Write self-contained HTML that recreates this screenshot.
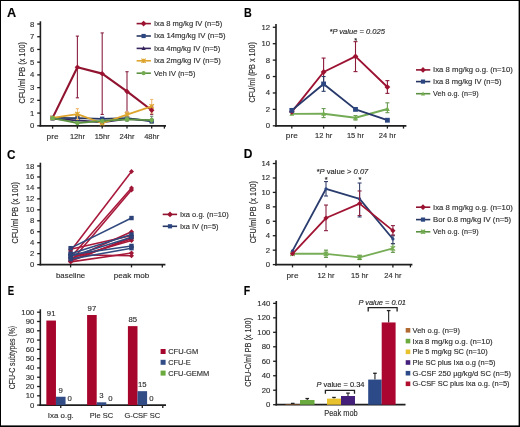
<!DOCTYPE html>
<html><head><meta charset="utf-8"><style>
html,body{margin:0;padding:0;background:#fff;}
svg{display:block;font-family:"Liberation Sans",sans-serif;will-change:transform;}
text{stroke:#333;stroke-width:0.15px;}
</style></head><body>
<svg width="520" height="427" viewBox="0 0 520 427">
<rect x="0" y="0" width="520" height="427" fill="#000"/>
<rect x="1" y="1" width="517.6" height="424.4" fill="#fff"/>
<text font-size="12" font-weight="bold" fill="#000" transform="translate(6.9,17.0) scale(1.06,1)">A</text>
<line x1="40.40" y1="21.30" x2="40.40" y2="126.60" stroke="#1e1e1e" stroke-width="1.6"/>
<line x1="37.20" y1="125.80" x2="40.40" y2="125.80" stroke="#1e1e1e" stroke-width="1.3"/>
<text x="34.40" y="128.30" font-size="8.0" text-anchor="end" fill="#2e2e2e" textLength="4.31" lengthAdjust="spacingAndGlyphs" >0</text>
<line x1="37.20" y1="113.08" x2="40.40" y2="113.08" stroke="#1e1e1e" stroke-width="1.3"/>
<text x="34.40" y="115.58" font-size="8.0" text-anchor="end" fill="#2e2e2e" textLength="4.31" lengthAdjust="spacingAndGlyphs" >1</text>
<line x1="37.20" y1="100.35" x2="40.40" y2="100.35" stroke="#1e1e1e" stroke-width="1.3"/>
<text x="34.40" y="102.85" font-size="8.0" text-anchor="end" fill="#2e2e2e" textLength="4.31" lengthAdjust="spacingAndGlyphs" >2</text>
<line x1="37.20" y1="87.62" x2="40.40" y2="87.62" stroke="#1e1e1e" stroke-width="1.3"/>
<text x="34.40" y="90.12" font-size="8.0" text-anchor="end" fill="#2e2e2e" textLength="4.31" lengthAdjust="spacingAndGlyphs" >3</text>
<line x1="37.20" y1="74.90" x2="40.40" y2="74.90" stroke="#1e1e1e" stroke-width="1.3"/>
<text x="34.40" y="77.40" font-size="8.0" text-anchor="end" fill="#2e2e2e" textLength="4.31" lengthAdjust="spacingAndGlyphs" >4</text>
<line x1="37.20" y1="62.17" x2="40.40" y2="62.17" stroke="#1e1e1e" stroke-width="1.3"/>
<text x="34.40" y="64.67" font-size="8.0" text-anchor="end" fill="#2e2e2e" textLength="4.31" lengthAdjust="spacingAndGlyphs" >5</text>
<line x1="37.20" y1="49.45" x2="40.40" y2="49.45" stroke="#1e1e1e" stroke-width="1.3"/>
<text x="34.40" y="51.95" font-size="8.0" text-anchor="end" fill="#2e2e2e" textLength="4.31" lengthAdjust="spacingAndGlyphs" >6</text>
<line x1="37.20" y1="36.72" x2="40.40" y2="36.72" stroke="#1e1e1e" stroke-width="1.3"/>
<text x="34.40" y="39.22" font-size="8.0" text-anchor="end" fill="#2e2e2e" textLength="4.31" lengthAdjust="spacingAndGlyphs" >7</text>
<line x1="37.20" y1="24.00" x2="40.40" y2="24.00" stroke="#1e1e1e" stroke-width="1.3"/>
<text x="34.40" y="26.50" font-size="8.0" text-anchor="end" fill="#2e2e2e" textLength="4.31" lengthAdjust="spacingAndGlyphs" >8</text>
<line x1="39.60" y1="125.80" x2="166.00" y2="125.80" stroke="#1e1e1e" stroke-width="1.7"/>
<line x1="52.60" y1="125.80" x2="52.60" y2="128.60" stroke="#1e1e1e" stroke-width="1.3"/>
<line x1="77.40" y1="125.80" x2="77.40" y2="128.60" stroke="#1e1e1e" stroke-width="1.3"/>
<line x1="102.20" y1="125.80" x2="102.20" y2="128.60" stroke="#1e1e1e" stroke-width="1.3"/>
<line x1="127.00" y1="125.80" x2="127.00" y2="128.60" stroke="#1e1e1e" stroke-width="1.3"/>
<line x1="151.70" y1="125.80" x2="151.70" y2="128.60" stroke="#1e1e1e" stroke-width="1.3"/>
<line x1="164.40" y1="125.80" x2="164.40" y2="128.60" stroke="#1e1e1e" stroke-width="1.3"/>
<text x="52.60" y="138.60" font-size="7.9" text-anchor="middle" fill="#2e2e2e" textLength="12.0" lengthAdjust="spacingAndGlyphs" >pre</text>
<text x="77.40" y="138.60" font-size="7.9" text-anchor="middle" fill="#2e2e2e" textLength="15.01" lengthAdjust="spacingAndGlyphs" >12hr</text>
<text x="102.20" y="138.60" font-size="7.9" text-anchor="middle" fill="#2e2e2e" textLength="15.01" lengthAdjust="spacingAndGlyphs" >15hr</text>
<text x="127.00" y="138.60" font-size="7.9" text-anchor="middle" fill="#2e2e2e" textLength="15.01" lengthAdjust="spacingAndGlyphs" >24hr</text>
<text x="151.70" y="138.60" font-size="7.9" text-anchor="middle" fill="#2e2e2e" textLength="15.01" lengthAdjust="spacingAndGlyphs" >48hr</text>
<text x="0" y="0" font-size="8.3" text-anchor="middle" fill="#2e2e2e" textLength="61.4" lengthAdjust="spacingAndGlyphs" transform="translate(24.5,72.7) rotate(-90)">CFU/ml PB (x 100)</text>
<line x1="77.40" y1="36.09" x2="77.40" y2="97.80" stroke="#8a2242" stroke-width="1.1"/>
<line x1="75.80" y1="36.09" x2="79.00" y2="36.09" stroke="#8a2242" stroke-width="1.1"/>
<line x1="75.80" y1="97.80" x2="79.00" y2="97.80" stroke="#8a2242" stroke-width="1.1"/>
<line x1="102.20" y1="32.91" x2="102.20" y2="114.47" stroke="#8a2242" stroke-width="1.1"/>
<line x1="100.60" y1="32.91" x2="103.80" y2="32.91" stroke="#8a2242" stroke-width="1.1"/>
<line x1="100.60" y1="114.47" x2="103.80" y2="114.47" stroke="#8a2242" stroke-width="1.1"/>
<line x1="127.00" y1="71.72" x2="127.00" y2="112.06" stroke="#8a2242" stroke-width="1.1"/>
<line x1="125.40" y1="71.72" x2="128.60" y2="71.72" stroke="#8a2242" stroke-width="1.1"/>
<line x1="125.40" y1="112.06" x2="128.60" y2="112.06" stroke="#8a2242" stroke-width="1.1"/>
<line x1="151.70" y1="106.08" x2="151.70" y2="114.35" stroke="#8a2242" stroke-width="1.1"/>
<line x1="150.10" y1="106.08" x2="153.30" y2="106.08" stroke="#8a2242" stroke-width="1.1"/>
<line x1="150.10" y1="114.35" x2="153.30" y2="114.35" stroke="#8a2242" stroke-width="1.1"/>
<polyline points="52.60,117.91 77.40,67.27 102.20,73.63 127.00,91.44 151.70,110.28" fill="none" stroke="#90132f" stroke-width="2.1" stroke-linejoin="round"/>
<polyline points="52.60,118.80 77.40,120.46 102.20,122.24 127.00,118.80 151.70,120.71" fill="none" stroke="#37265e" stroke-width="1.8" stroke-linejoin="round"/>
<polygon points="52.60,116.38 54.80,120.56 50.40,120.56" fill="#37265e"/>
<polygon points="77.40,118.04 79.60,122.22 75.20,122.22" fill="#37265e"/>
<polygon points="102.20,119.82 104.40,124.00 100.00,124.00" fill="#37265e"/>
<polygon points="127.00,116.38 129.20,120.56 124.80,120.56" fill="#37265e"/>
<polygon points="151.70,118.29 153.90,122.47 149.50,122.47" fill="#37265e"/>
<line x1="77.40" y1="115.62" x2="77.40" y2="120.07" stroke="#263660" stroke-width="1.1"/>
<line x1="75.80" y1="115.62" x2="79.00" y2="115.62" stroke="#263660" stroke-width="1.1"/>
<line x1="75.80" y1="120.07" x2="79.00" y2="120.07" stroke="#263660" stroke-width="1.1"/>
<line x1="102.20" y1="117.53" x2="102.20" y2="120.71" stroke="#263660" stroke-width="1.1"/>
<line x1="100.60" y1="117.53" x2="103.80" y2="117.53" stroke="#263660" stroke-width="1.1"/>
<line x1="100.60" y1="120.71" x2="103.80" y2="120.71" stroke="#263660" stroke-width="1.1"/>
<polyline points="52.60,117.91 77.40,118.16 102.20,118.80 127.00,118.16 151.70,121.35" fill="none" stroke="#263660" stroke-width="1.8" stroke-linejoin="round"/>
<rect x="50.40" y="115.71" width="4.40" height="4.40" fill="#2c4682" />
<rect x="75.20" y="115.96" width="4.40" height="4.40" fill="#2c4682" />
<rect x="100.00" y="116.60" width="4.40" height="4.40" fill="#2c4682" />
<rect x="124.80" y="115.96" width="4.40" height="4.40" fill="#2c4682" />
<rect x="149.50" y="119.15" width="4.40" height="4.40" fill="#2c4682" />
<line x1="77.40" y1="108.62" x2="77.40" y2="119.44" stroke="#eebc78" stroke-width="1.1"/>
<line x1="75.80" y1="108.62" x2="79.00" y2="108.62" stroke="#eebc78" stroke-width="1.1"/>
<line x1="75.80" y1="119.44" x2="79.00" y2="119.44" stroke="#eebc78" stroke-width="1.1"/>
<line x1="127.00" y1="111.80" x2="127.00" y2="118.16" stroke="#eebc78" stroke-width="1.1"/>
<line x1="125.40" y1="111.80" x2="128.60" y2="111.80" stroke="#eebc78" stroke-width="1.1"/>
<line x1="125.40" y1="118.16" x2="128.60" y2="118.16" stroke="#eebc78" stroke-width="1.1"/>
<line x1="151.70" y1="99.46" x2="151.70" y2="113.08" stroke="#eebc78" stroke-width="1.1"/>
<line x1="150.10" y1="99.46" x2="153.30" y2="99.46" stroke="#eebc78" stroke-width="1.1"/>
<line x1="150.10" y1="113.08" x2="153.30" y2="113.08" stroke="#eebc78" stroke-width="1.1"/>
<polyline points="52.60,117.91 77.40,114.09 102.20,123.25 127.00,114.60 151.70,106.33" fill="none" stroke="#dea52e" stroke-width="1.8" stroke-linejoin="round"/>
<path d="M50.40,115.71L54.80,120.11M54.80,115.71L50.40,120.11M52.60,115.71L52.60,120.11" stroke="#dea52e" stroke-width="1.2" fill="none"/>
<path d="M75.20,111.89L79.60,116.29M79.60,111.89L75.20,116.29M77.40,111.89L77.40,116.29" stroke="#dea52e" stroke-width="1.2" fill="none"/>
<path d="M100.00,121.05L104.40,125.45M104.40,121.05L100.00,125.45M102.20,121.05L102.20,125.45" stroke="#dea52e" stroke-width="1.2" fill="none"/>
<path d="M124.80,112.40L129.20,116.80M129.20,112.40L124.80,116.80M127.00,112.40L127.00,116.80" stroke="#dea52e" stroke-width="1.2" fill="none"/>
<path d="M149.50,104.13L153.90,108.53M153.90,104.13L149.50,108.53M151.70,104.13L151.70,108.53" stroke="#dea52e" stroke-width="1.2" fill="none"/>
<line x1="127.00" y1="116.89" x2="127.00" y2="121.35" stroke="#6f8a78" stroke-width="1.1"/>
<line x1="125.40" y1="116.89" x2="128.60" y2="116.89" stroke="#6f8a78" stroke-width="1.1"/>
<line x1="125.40" y1="121.35" x2="128.60" y2="121.35" stroke="#6f8a78" stroke-width="1.1"/>
<line x1="151.70" y1="116.26" x2="151.70" y2="123.25" stroke="#6f8a78" stroke-width="1.1"/>
<line x1="150.10" y1="116.26" x2="153.30" y2="116.26" stroke="#6f8a78" stroke-width="1.1"/>
<line x1="150.10" y1="123.25" x2="153.30" y2="123.25" stroke="#6f8a78" stroke-width="1.1"/>
<polyline points="52.60,118.16 77.40,123.00 102.20,120.96 127.00,119.44 151.70,120.07" fill="none" stroke="#5c9142" stroke-width="1.8" stroke-linejoin="round"/>
<circle cx="52.60" cy="118.16" r="2.20" fill="#74ad50"/>
<circle cx="77.40" cy="123.00" r="2.20" fill="#74ad50"/>
<circle cx="102.20" cy="120.96" r="2.20" fill="#74ad50"/>
<circle cx="127.00" cy="119.44" r="2.20" fill="#74ad50"/>
<circle cx="151.70" cy="120.07" r="2.20" fill="#74ad50"/>
<polygon points="77.40,64.56 80.10,67.27 77.40,69.97 74.70,67.27" fill="#9c1230"/>
<polygon points="102.20,70.93 104.90,73.63 102.20,76.33 99.50,73.63" fill="#9c1230"/>
<polygon points="127.00,88.74 129.70,91.44 127.00,94.14 124.30,91.44" fill="#9c1230"/>
<polygon points="151.70,107.58 154.40,110.28 151.70,112.98 149.00,110.28" fill="#9c1230"/>
<line x1="136.60" y1="23.60" x2="150.90" y2="23.60" stroke="#90132f" stroke-width="1.6"/>
<polygon points="143.60,20.70 146.50,23.60 143.60,26.50 140.70,23.60" fill="#9c1230"/>
<text x="154.00" y="25.90" font-size="7.5" text-anchor="start" fill="#2e2e2e" textLength="68.3" lengthAdjust="spacingAndGlyphs" >Ixa 8 mg/kg IV (n=5)</text>
<line x1="136.60" y1="36.00" x2="150.90" y2="36.00" stroke="#263660" stroke-width="1.6"/>
<rect x="141.50" y="33.90" width="4.20" height="4.20" fill="#2c4682" />
<text x="154.00" y="38.30" font-size="7.5" text-anchor="start" fill="#2e2e2e" textLength="71.6" lengthAdjust="spacingAndGlyphs" >Ixa 14mg/kg IV (n=5)</text>
<line x1="136.60" y1="48.40" x2="150.90" y2="48.40" stroke="#37265e" stroke-width="1.6"/>
<polygon points="143.60,46.09 145.70,50.08 141.50,50.08" fill="#37265e"/>
<text x="154.00" y="50.70" font-size="7.5" text-anchor="start" fill="#2e2e2e" textLength="66.3" lengthAdjust="spacingAndGlyphs" >Ixa 4mg/kg IV (n=5)</text>
<line x1="136.60" y1="60.80" x2="150.90" y2="60.80" stroke="#dea52e" stroke-width="1.6"/>
<path d="M141.50,58.70L145.70,62.90M145.70,58.70L141.50,62.90M143.60,58.70L143.60,62.90" stroke="#dea52e" stroke-width="1.2" fill="none"/>
<text x="154.00" y="63.10" font-size="7.5" text-anchor="start" fill="#2e2e2e" textLength="66.8" lengthAdjust="spacingAndGlyphs" >Ixa 2mg/kg IV (n=5)</text>
<line x1="136.60" y1="73.20" x2="150.90" y2="73.20" stroke="#5c9142" stroke-width="1.6"/>
<circle cx="143.60" cy="73.20" r="2.10" fill="#74ad50"/>
<text x="154.00" y="75.50" font-size="7.5" text-anchor="start" fill="#2e2e2e" textLength="41.4" lengthAdjust="spacingAndGlyphs" >Veh IV (n=5)</text>
<text font-size="12" font-weight="bold" fill="#000" transform="translate(244.0,16.8) scale(0.9,1)">B</text>
<line x1="276.00" y1="24.10" x2="276.00" y2="126.60" stroke="#1e1e1e" stroke-width="1.6"/>
<line x1="272.80" y1="125.80" x2="276.00" y2="125.80" stroke="#1e1e1e" stroke-width="1.3"/>
<text x="270.00" y="128.30" font-size="8.0" text-anchor="end" fill="#2e2e2e" textLength="4.31" lengthAdjust="spacingAndGlyphs" >0</text>
<line x1="272.80" y1="109.38" x2="276.00" y2="109.38" stroke="#1e1e1e" stroke-width="1.3"/>
<text x="270.00" y="111.88" font-size="8.0" text-anchor="end" fill="#2e2e2e" textLength="4.31" lengthAdjust="spacingAndGlyphs" >2</text>
<line x1="272.80" y1="92.96" x2="276.00" y2="92.96" stroke="#1e1e1e" stroke-width="1.3"/>
<text x="270.00" y="95.46" font-size="8.0" text-anchor="end" fill="#2e2e2e" textLength="4.31" lengthAdjust="spacingAndGlyphs" >4</text>
<line x1="272.80" y1="76.54" x2="276.00" y2="76.54" stroke="#1e1e1e" stroke-width="1.3"/>
<text x="270.00" y="79.04" font-size="8.0" text-anchor="end" fill="#2e2e2e" textLength="4.31" lengthAdjust="spacingAndGlyphs" >6</text>
<line x1="272.80" y1="60.12" x2="276.00" y2="60.12" stroke="#1e1e1e" stroke-width="1.3"/>
<text x="270.00" y="62.62" font-size="8.0" text-anchor="end" fill="#2e2e2e" textLength="4.31" lengthAdjust="spacingAndGlyphs" >8</text>
<line x1="272.80" y1="43.70" x2="276.00" y2="43.70" stroke="#1e1e1e" stroke-width="1.3"/>
<text x="270.00" y="46.20" font-size="8.0" text-anchor="end" fill="#2e2e2e" textLength="8.62" lengthAdjust="spacingAndGlyphs" >10</text>
<line x1="272.80" y1="27.28" x2="276.00" y2="27.28" stroke="#1e1e1e" stroke-width="1.3"/>
<text x="270.00" y="29.78" font-size="8.0" text-anchor="end" fill="#2e2e2e" textLength="8.62" lengthAdjust="spacingAndGlyphs" >12</text>
<line x1="275.20" y1="125.80" x2="406.40" y2="125.80" stroke="#1e1e1e" stroke-width="1.7"/>
<line x1="291.80" y1="125.80" x2="291.80" y2="128.60" stroke="#1e1e1e" stroke-width="1.3"/>
<line x1="323.60" y1="125.80" x2="323.60" y2="128.60" stroke="#1e1e1e" stroke-width="1.3"/>
<line x1="355.50" y1="125.80" x2="355.50" y2="128.60" stroke="#1e1e1e" stroke-width="1.3"/>
<line x1="387.40" y1="125.80" x2="387.40" y2="128.60" stroke="#1e1e1e" stroke-width="1.3"/>
<line x1="403.50" y1="125.80" x2="403.50" y2="128.60" stroke="#1e1e1e" stroke-width="1.3"/>
<text x="291.80" y="138.30" font-size="7.9" text-anchor="middle" fill="#2e2e2e" textLength="12.0" lengthAdjust="spacingAndGlyphs" >pre</text>
<text x="323.60" y="138.30" font-size="7.9" text-anchor="middle" fill="#2e2e2e" textLength="17.09" lengthAdjust="spacingAndGlyphs" >12 hr</text>
<text x="355.50" y="138.30" font-size="7.9" text-anchor="middle" fill="#2e2e2e" textLength="17.09" lengthAdjust="spacingAndGlyphs" >15 hr</text>
<text x="387.40" y="138.30" font-size="7.9" text-anchor="middle" fill="#2e2e2e" textLength="17.09" lengthAdjust="spacingAndGlyphs" >24 hr</text>
<text x="0" y="0" font-size="8.3" text-anchor="middle" fill="#2e2e2e" textLength="60.5" lengthAdjust="spacingAndGlyphs" transform="translate(255.2,72.3) rotate(-90)">CFU/ml (PB x 100)</text>
<line x1="323.60" y1="108.56" x2="323.60" y2="117.59" stroke="#6a9a55" stroke-width="1.1"/>
<line x1="321.60" y1="108.56" x2="325.60" y2="108.56" stroke="#6a9a55" stroke-width="1.1"/>
<line x1="321.60" y1="117.59" x2="325.60" y2="117.59" stroke="#6a9a55" stroke-width="1.1"/>
<line x1="355.50" y1="115.54" x2="355.50" y2="120.05" stroke="#6a9a55" stroke-width="1.1"/>
<line x1="353.50" y1="115.54" x2="357.50" y2="115.54" stroke="#6a9a55" stroke-width="1.1"/>
<line x1="353.50" y1="120.05" x2="357.50" y2="120.05" stroke="#6a9a55" stroke-width="1.1"/>
<line x1="387.40" y1="102.81" x2="387.40" y2="112.66" stroke="#6a9a55" stroke-width="1.1"/>
<line x1="385.40" y1="102.81" x2="389.40" y2="102.81" stroke="#6a9a55" stroke-width="1.1"/>
<line x1="385.40" y1="112.66" x2="389.40" y2="112.66" stroke="#6a9a55" stroke-width="1.1"/>
<polyline points="291.80,113.90 323.60,113.73 355.50,117.75 387.40,108.97" fill="none" stroke="#74ab55" stroke-width="1.9" stroke-linejoin="round"/>
<polygon points="291.80,111.26 294.20,115.82 289.40,115.82" fill="#74ad50"/>
<polygon points="323.60,111.09 326.00,115.65 321.20,115.65" fill="#74ad50"/>
<polygon points="355.50,115.11 357.90,119.67 353.10,119.67" fill="#74ad50"/>
<polygon points="387.40,106.33 389.80,110.89 385.00,110.89" fill="#74ad50"/>
<line x1="323.60" y1="58.07" x2="323.60" y2="85.57" stroke="#8c1a3a" stroke-width="1.1"/>
<line x1="321.60" y1="58.07" x2="325.60" y2="58.07" stroke="#8c1a3a" stroke-width="1.1"/>
<line x1="321.60" y1="85.57" x2="325.60" y2="85.57" stroke="#8c1a3a" stroke-width="1.1"/>
<line x1="355.50" y1="41.65" x2="355.50" y2="71.61" stroke="#8c1a3a" stroke-width="1.1"/>
<line x1="353.50" y1="41.65" x2="357.50" y2="41.65" stroke="#8c1a3a" stroke-width="1.1"/>
<line x1="353.50" y1="71.61" x2="357.50" y2="71.61" stroke="#8c1a3a" stroke-width="1.1"/>
<line x1="387.40" y1="80.64" x2="387.40" y2="93.37" stroke="#8c1a3a" stroke-width="1.1"/>
<line x1="385.40" y1="80.64" x2="389.40" y2="80.64" stroke="#8c1a3a" stroke-width="1.1"/>
<line x1="385.40" y1="93.37" x2="389.40" y2="93.37" stroke="#8c1a3a" stroke-width="1.1"/>
<polyline points="291.80,111.84 323.60,72.02 355.50,56.43 387.40,87.05" fill="none" stroke="#9c1232" stroke-width="1.9" stroke-linejoin="round"/>
<polygon points="291.80,108.94 294.70,111.84 291.80,114.74 288.90,111.84" fill="#9c1230"/>
<polygon points="323.60,69.12 326.50,72.02 323.60,74.92 320.70,72.02" fill="#9c1230"/>
<polygon points="355.50,53.53 358.40,56.43 355.50,59.33 352.60,56.43" fill="#9c1230"/>
<polygon points="387.40,84.15 390.30,87.05 387.40,89.95 384.50,87.05" fill="#9c1230"/>
<line x1="323.60" y1="76.54" x2="323.60" y2="91.32" stroke="#2c3c68" stroke-width="1.1"/>
<line x1="321.60" y1="76.54" x2="325.60" y2="76.54" stroke="#2c3c68" stroke-width="1.1"/>
<line x1="321.60" y1="91.32" x2="325.60" y2="91.32" stroke="#2c3c68" stroke-width="1.1"/>
<polyline points="291.80,110.37 323.60,83.93 355.50,109.38 387.40,120.22" fill="none" stroke="#27386a" stroke-width="1.9" stroke-linejoin="round"/>
<rect x="289.40" y="107.97" width="4.80" height="4.80" fill="#2c4682" />
<rect x="321.20" y="81.53" width="4.80" height="4.80" fill="#2c4682" />
<rect x="353.10" y="106.98" width="4.80" height="4.80" fill="#2c4682" />
<rect x="385.00" y="117.82" width="4.80" height="4.80" fill="#2c4682" />
<text x="357.20" y="33.80" font-size="7.5" text-anchor="middle" fill="#222" textLength="55.4" lengthAdjust="spacingAndGlyphs" font-style="italic">*P value = 0.025</text>
<text x="355.70" y="43.20" font-size="7.5" text-anchor="middle" fill="#222" >*</text>
<line x1="416.00" y1="69.90" x2="430.30" y2="69.90" stroke="#90132f" stroke-width="1.6"/>
<polygon points="423.00,67.00 425.90,69.90 423.00,72.80 420.10,69.90" fill="#9c1230"/>
<text x="433.10" y="72.20" font-size="7.5" text-anchor="start" fill="#2e2e2e" textLength="79.7" lengthAdjust="spacingAndGlyphs" >Ixa 8 mg/kg o.g. (n=10)</text>
<line x1="416.00" y1="81.60" x2="430.30" y2="81.60" stroke="#263660" stroke-width="1.6"/>
<rect x="420.90" y="79.50" width="4.20" height="4.20" fill="#2c4682" />
<text x="433.10" y="83.90" font-size="7.5" text-anchor="start" fill="#2e2e2e" textLength="68.5" lengthAdjust="spacingAndGlyphs" >Ixa 8 mg/kg IV (n=5)</text>
<line x1="416.00" y1="93.70" x2="430.30" y2="93.70" stroke="#5c9142" stroke-width="1.6"/>
<polygon points="423.00,91.39 425.10,95.38 420.90,95.38" fill="#74ad50"/>
<text x="433.10" y="96.00" font-size="7.5" text-anchor="start" fill="#2e2e2e" textLength="45.5" lengthAdjust="spacingAndGlyphs" >Veh o.g. (n=9)</text>
<text font-size="12" font-weight="bold" fill="#000" transform="translate(7.0,158.6) scale(0.98,1)">C</text>
<line x1="40.40" y1="162.70" x2="40.40" y2="265.40" stroke="#1e1e1e" stroke-width="1.6"/>
<line x1="37.20" y1="264.60" x2="40.40" y2="264.60" stroke="#1e1e1e" stroke-width="1.3"/>
<text x="34.40" y="267.10" font-size="8.0" text-anchor="end" fill="#2e2e2e" textLength="4.31" lengthAdjust="spacingAndGlyphs" >0</text>
<line x1="37.20" y1="253.64" x2="40.40" y2="253.64" stroke="#1e1e1e" stroke-width="1.3"/>
<text x="34.40" y="256.14" font-size="8.0" text-anchor="end" fill="#2e2e2e" textLength="4.31" lengthAdjust="spacingAndGlyphs" >2</text>
<line x1="37.20" y1="242.69" x2="40.40" y2="242.69" stroke="#1e1e1e" stroke-width="1.3"/>
<text x="34.40" y="245.19" font-size="8.0" text-anchor="end" fill="#2e2e2e" textLength="4.31" lengthAdjust="spacingAndGlyphs" >4</text>
<line x1="37.20" y1="231.73" x2="40.40" y2="231.73" stroke="#1e1e1e" stroke-width="1.3"/>
<text x="34.40" y="234.23" font-size="8.0" text-anchor="end" fill="#2e2e2e" textLength="4.31" lengthAdjust="spacingAndGlyphs" >6</text>
<line x1="37.20" y1="220.78" x2="40.40" y2="220.78" stroke="#1e1e1e" stroke-width="1.3"/>
<text x="34.40" y="223.28" font-size="8.0" text-anchor="end" fill="#2e2e2e" textLength="4.31" lengthAdjust="spacingAndGlyphs" >8</text>
<line x1="37.20" y1="209.82" x2="40.40" y2="209.82" stroke="#1e1e1e" stroke-width="1.3"/>
<text x="34.40" y="212.32" font-size="8.0" text-anchor="end" fill="#2e2e2e" textLength="8.62" lengthAdjust="spacingAndGlyphs" >10</text>
<line x1="37.20" y1="198.86" x2="40.40" y2="198.86" stroke="#1e1e1e" stroke-width="1.3"/>
<text x="34.40" y="201.36" font-size="8.0" text-anchor="end" fill="#2e2e2e" textLength="8.62" lengthAdjust="spacingAndGlyphs" >12</text>
<line x1="37.20" y1="187.91" x2="40.40" y2="187.91" stroke="#1e1e1e" stroke-width="1.3"/>
<text x="34.40" y="190.41" font-size="8.0" text-anchor="end" fill="#2e2e2e" textLength="8.62" lengthAdjust="spacingAndGlyphs" >14</text>
<line x1="37.20" y1="176.95" x2="40.40" y2="176.95" stroke="#1e1e1e" stroke-width="1.3"/>
<text x="34.40" y="179.45" font-size="8.0" text-anchor="end" fill="#2e2e2e" textLength="8.62" lengthAdjust="spacingAndGlyphs" >16</text>
<line x1="37.20" y1="166.00" x2="40.40" y2="166.00" stroke="#1e1e1e" stroke-width="1.3"/>
<text x="34.40" y="168.50" font-size="8.0" text-anchor="end" fill="#2e2e2e" textLength="8.62" lengthAdjust="spacingAndGlyphs" >18</text>
<line x1="39.60" y1="264.60" x2="165.40" y2="264.60" stroke="#1e1e1e" stroke-width="1.7"/>
<line x1="70.60" y1="264.60" x2="70.60" y2="267.40" stroke="#1e1e1e" stroke-width="1.3"/>
<line x1="131.50" y1="264.60" x2="131.50" y2="267.40" stroke="#1e1e1e" stroke-width="1.3"/>
<line x1="162.30" y1="264.60" x2="162.30" y2="267.40" stroke="#1e1e1e" stroke-width="1.3"/>
<text x="70.60" y="278.30" font-size="7.9" text-anchor="middle" fill="#2e2e2e" textLength="29.2" lengthAdjust="spacingAndGlyphs" >baseline</text>
<text x="131.50" y="278.30" font-size="7.9" text-anchor="middle" fill="#2e2e2e" textLength="35.6" lengthAdjust="spacingAndGlyphs" >peak mob</text>
<text x="0" y="0" font-size="8.3" text-anchor="middle" fill="#2e2e2e" textLength="61.4" lengthAdjust="spacingAndGlyphs" transform="translate(17.9,212.7) rotate(-90)">CFU/ml PB (x 100)</text>
<polyline points="70.60,250.91 131.50,171.47" fill="none" stroke="#a8183a" stroke-width="1.55" stroke-linejoin="round"/>
<polyline points="70.60,257.48 131.50,187.91" fill="none" stroke="#a8183a" stroke-width="1.55" stroke-linejoin="round"/>
<polyline points="70.60,261.86 131.50,190.10" fill="none" stroke="#a8183a" stroke-width="1.55" stroke-linejoin="round"/>
<polyline points="70.60,259.12 131.50,231.73" fill="none" stroke="#a8183a" stroke-width="1.55" stroke-linejoin="round"/>
<polyline points="70.60,249.26 131.50,235.57" fill="none" stroke="#a8183a" stroke-width="1.55" stroke-linejoin="round"/>
<polyline points="70.60,260.22 131.50,238.85" fill="none" stroke="#a8183a" stroke-width="1.55" stroke-linejoin="round"/>
<polyline points="70.60,258.03 131.50,240.50" fill="none" stroke="#a8183a" stroke-width="1.55" stroke-linejoin="round"/>
<polyline points="70.60,261.86 131.50,253.10" fill="none" stroke="#a8183a" stroke-width="1.55" stroke-linejoin="round"/>
<polyline points="70.60,254.74 131.50,255.84" fill="none" stroke="#a8183a" stroke-width="1.55" stroke-linejoin="round"/>
<polyline points="70.60,261.31 131.50,237.21" fill="none" stroke="#a8183a" stroke-width="1.55" stroke-linejoin="round"/>
<polyline points="70.60,248.17 131.50,218.04" fill="none" stroke="#30497f" stroke-width="1.55" stroke-linejoin="round"/>
<polyline points="70.60,253.64 131.50,234.47" fill="none" stroke="#30497f" stroke-width="1.55" stroke-linejoin="round"/>
<polyline points="70.60,256.38 131.50,237.21" fill="none" stroke="#30497f" stroke-width="1.55" stroke-linejoin="round"/>
<polyline points="70.60,254.74 131.50,245.97" fill="none" stroke="#30497f" stroke-width="1.55" stroke-linejoin="round"/>
<polyline points="70.60,259.12 131.50,248.17" fill="none" stroke="#30497f" stroke-width="1.55" stroke-linejoin="round"/>
<polygon points="70.60,248.41 73.10,250.91 70.60,253.41 68.10,250.91" fill="#a01636"/>
<polygon points="131.50,168.97 134.00,171.47 131.50,173.97 129.00,171.47" fill="#a01636"/>
<polygon points="70.60,254.98 73.10,257.48 70.60,259.98 68.10,257.48" fill="#a01636"/>
<polygon points="131.50,185.41 134.00,187.91 131.50,190.41 129.00,187.91" fill="#a01636"/>
<polygon points="70.60,259.36 73.10,261.86 70.60,264.36 68.10,261.86" fill="#a01636"/>
<polygon points="131.50,187.60 134.00,190.10 131.50,192.60 129.00,190.10" fill="#a01636"/>
<polygon points="70.60,256.62 73.10,259.12 70.60,261.62 68.10,259.12" fill="#a01636"/>
<polygon points="131.50,229.23 134.00,231.73 131.50,234.23 129.00,231.73" fill="#a01636"/>
<polygon points="70.60,246.76 73.10,249.26 70.60,251.76 68.10,249.26" fill="#a01636"/>
<polygon points="131.50,233.07 134.00,235.57 131.50,238.07 129.00,235.57" fill="#a01636"/>
<polygon points="70.60,257.72 73.10,260.22 70.60,262.72 68.10,260.22" fill="#a01636"/>
<polygon points="131.50,236.35 134.00,238.85 131.50,241.35 129.00,238.85" fill="#a01636"/>
<polygon points="70.60,255.53 73.10,258.03 70.60,260.53 68.10,258.03" fill="#a01636"/>
<polygon points="131.50,238.00 134.00,240.50 131.50,243.00 129.00,240.50" fill="#a01636"/>
<polygon points="70.60,259.36 73.10,261.86 70.60,264.36 68.10,261.86" fill="#a01636"/>
<polygon points="131.50,250.60 134.00,253.10 131.50,255.60 129.00,253.10" fill="#a01636"/>
<polygon points="70.60,252.24 73.10,254.74 70.60,257.24 68.10,254.74" fill="#a01636"/>
<polygon points="131.50,253.34 134.00,255.84 131.50,258.34 129.00,255.84" fill="#a01636"/>
<polygon points="70.60,258.81 73.10,261.31 70.60,263.81 68.10,261.31" fill="#a01636"/>
<polygon points="131.50,234.71 134.00,237.21 131.50,239.71 129.00,237.21" fill="#a01636"/>
<rect x="68.40" y="245.97" width="4.40" height="4.40" fill="#2c4278" />
<rect x="129.30" y="215.84" width="4.40" height="4.40" fill="#2c4278" />
<rect x="68.40" y="251.44" width="4.40" height="4.40" fill="#2c4278" />
<rect x="129.30" y="232.27" width="4.40" height="4.40" fill="#2c4278" />
<rect x="68.40" y="254.18" width="4.40" height="4.40" fill="#2c4278" />
<rect x="129.30" y="235.01" width="4.40" height="4.40" fill="#2c4278" />
<rect x="68.40" y="252.54" width="4.40" height="4.40" fill="#2c4278" />
<rect x="129.30" y="243.77" width="4.40" height="4.40" fill="#2c4278" />
<rect x="68.40" y="256.92" width="4.40" height="4.40" fill="#2c4278" />
<rect x="129.30" y="245.97" width="4.40" height="4.40" fill="#2c4278" />
<line x1="162.70" y1="214.40" x2="177.10" y2="214.40" stroke="#90132f" stroke-width="1.6"/>
<polygon points="170.00,211.50 172.90,214.40 170.00,217.30 167.10,214.40" fill="#9c1230"/>
<text x="180.00" y="216.70" font-size="7.5" text-anchor="start" fill="#2e2e2e" textLength="48.7" lengthAdjust="spacingAndGlyphs" >Ixa o.g. (n=10)</text>
<line x1="162.70" y1="226.30" x2="177.10" y2="226.30" stroke="#263660" stroke-width="1.6"/>
<rect x="167.90" y="224.20" width="4.20" height="4.20" fill="#2c4682" />
<text x="180.00" y="228.60" font-size="7.5" text-anchor="start" fill="#2e2e2e" textLength="38.5" lengthAdjust="spacingAndGlyphs" >Ixa IV (n=5)</text>
<text font-size="12" font-weight="bold" fill="#000" transform="translate(243.8,158.2) scale(1.0,1)">D</text>
<line x1="276.00" y1="160.20" x2="276.00" y2="265.40" stroke="#1e1e1e" stroke-width="1.6"/>
<line x1="272.80" y1="264.60" x2="276.00" y2="264.60" stroke="#1e1e1e" stroke-width="1.3"/>
<text x="270.00" y="267.10" font-size="8.0" text-anchor="end" fill="#2e2e2e" textLength="4.31" lengthAdjust="spacingAndGlyphs" >0</text>
<line x1="272.80" y1="250.16" x2="276.00" y2="250.16" stroke="#1e1e1e" stroke-width="1.3"/>
<text x="270.00" y="252.66" font-size="8.0" text-anchor="end" fill="#2e2e2e" textLength="4.31" lengthAdjust="spacingAndGlyphs" >2</text>
<line x1="272.80" y1="235.72" x2="276.00" y2="235.72" stroke="#1e1e1e" stroke-width="1.3"/>
<text x="270.00" y="238.22" font-size="8.0" text-anchor="end" fill="#2e2e2e" textLength="4.31" lengthAdjust="spacingAndGlyphs" >4</text>
<line x1="272.80" y1="221.28" x2="276.00" y2="221.28" stroke="#1e1e1e" stroke-width="1.3"/>
<text x="270.00" y="223.78" font-size="8.0" text-anchor="end" fill="#2e2e2e" textLength="4.31" lengthAdjust="spacingAndGlyphs" >6</text>
<line x1="272.80" y1="206.84" x2="276.00" y2="206.84" stroke="#1e1e1e" stroke-width="1.3"/>
<text x="270.00" y="209.34" font-size="8.0" text-anchor="end" fill="#2e2e2e" textLength="4.31" lengthAdjust="spacingAndGlyphs" >8</text>
<line x1="272.80" y1="192.40" x2="276.00" y2="192.40" stroke="#1e1e1e" stroke-width="1.3"/>
<text x="270.00" y="194.90" font-size="8.0" text-anchor="end" fill="#2e2e2e" textLength="8.62" lengthAdjust="spacingAndGlyphs" >10</text>
<line x1="272.80" y1="177.96" x2="276.00" y2="177.96" stroke="#1e1e1e" stroke-width="1.3"/>
<text x="270.00" y="180.46" font-size="8.0" text-anchor="end" fill="#2e2e2e" textLength="8.62" lengthAdjust="spacingAndGlyphs" >12</text>
<line x1="272.80" y1="163.52" x2="276.00" y2="163.52" stroke="#1e1e1e" stroke-width="1.3"/>
<text x="270.00" y="166.02" font-size="8.0" text-anchor="end" fill="#2e2e2e" textLength="8.62" lengthAdjust="spacingAndGlyphs" >14</text>
<line x1="275.20" y1="264.60" x2="412.40" y2="264.60" stroke="#1e1e1e" stroke-width="1.7"/>
<line x1="292.50" y1="264.60" x2="292.50" y2="267.40" stroke="#1e1e1e" stroke-width="1.3"/>
<line x1="326.00" y1="264.60" x2="326.00" y2="267.40" stroke="#1e1e1e" stroke-width="1.3"/>
<line x1="359.60" y1="264.60" x2="359.60" y2="267.40" stroke="#1e1e1e" stroke-width="1.3"/>
<line x1="392.90" y1="264.60" x2="392.90" y2="267.40" stroke="#1e1e1e" stroke-width="1.3"/>
<line x1="410.40" y1="264.60" x2="410.40" y2="267.40" stroke="#1e1e1e" stroke-width="1.3"/>
<text x="292.50" y="277.80" font-size="7.9" text-anchor="middle" fill="#2e2e2e" textLength="12.0" lengthAdjust="spacingAndGlyphs" >pre</text>
<text x="326.00" y="277.80" font-size="7.9" text-anchor="middle" fill="#2e2e2e" textLength="17.09" lengthAdjust="spacingAndGlyphs" >12 hr</text>
<text x="359.60" y="277.80" font-size="7.9" text-anchor="middle" fill="#2e2e2e" textLength="17.09" lengthAdjust="spacingAndGlyphs" >15 hr</text>
<text x="392.90" y="277.80" font-size="7.9" text-anchor="middle" fill="#2e2e2e" textLength="17.09" lengthAdjust="spacingAndGlyphs" >24 hr</text>
<text x="0" y="0" font-size="8.3" text-anchor="middle" fill="#2e2e2e" textLength="62.3" lengthAdjust="spacingAndGlyphs" transform="translate(255.6,212.2) rotate(-90)">CFU/ml PB (x 100)</text>
<line x1="326.00" y1="250.16" x2="326.00" y2="257.38" stroke="#5c9142" stroke-width="1.1"/>
<line x1="324.00" y1="250.16" x2="328.00" y2="250.16" stroke="#5c9142" stroke-width="1.1"/>
<line x1="324.00" y1="257.38" x2="328.00" y2="257.38" stroke="#5c9142" stroke-width="1.1"/>
<line x1="359.60" y1="255.21" x2="359.60" y2="259.55" stroke="#5c9142" stroke-width="1.1"/>
<line x1="357.60" y1="255.21" x2="361.60" y2="255.21" stroke="#5c9142" stroke-width="1.1"/>
<line x1="357.60" y1="259.55" x2="361.60" y2="259.55" stroke="#5c9142" stroke-width="1.1"/>
<line x1="392.90" y1="243.66" x2="392.90" y2="252.33" stroke="#5c9142" stroke-width="1.1"/>
<line x1="390.90" y1="243.66" x2="394.90" y2="243.66" stroke="#5c9142" stroke-width="1.1"/>
<line x1="390.90" y1="252.33" x2="394.90" y2="252.33" stroke="#5c9142" stroke-width="1.1"/>
<polyline points="292.50,253.77 326.00,253.77 359.60,257.38 392.90,248.36" fill="none" stroke="#78ad58" stroke-width="1.8" stroke-linejoin="round"/>
<path d="M290.30,251.57L294.70,255.97M294.70,251.57L290.30,255.97M292.50,251.57L292.50,255.97" stroke="#74ad50" stroke-width="1.2" fill="none"/>
<path d="M323.80,251.57L328.20,255.97M328.20,251.57L323.80,255.97M326.00,251.57L326.00,255.97" stroke="#74ad50" stroke-width="1.2" fill="none"/>
<path d="M357.40,255.18L361.80,259.58M361.80,255.18L357.40,259.58M359.60,255.18L359.60,259.58" stroke="#74ad50" stroke-width="1.2" fill="none"/>
<path d="M390.70,246.16L395.10,250.56M395.10,246.16L390.70,250.56M392.90,246.16L392.90,250.56" stroke="#74ad50" stroke-width="1.2" fill="none"/>
<line x1="326.00" y1="181.57" x2="326.00" y2="196.01" stroke="#34406a" stroke-width="1.1"/>
<line x1="324.00" y1="181.57" x2="328.00" y2="181.57" stroke="#34406a" stroke-width="1.1"/>
<line x1="324.00" y1="196.01" x2="328.00" y2="196.01" stroke="#34406a" stroke-width="1.1"/>
<line x1="359.60" y1="183.01" x2="359.60" y2="216.95" stroke="#34406a" stroke-width="1.1"/>
<line x1="357.60" y1="183.01" x2="361.60" y2="183.01" stroke="#34406a" stroke-width="1.1"/>
<line x1="357.60" y1="216.95" x2="361.60" y2="216.95" stroke="#34406a" stroke-width="1.1"/>
<line x1="392.90" y1="235.72" x2="392.90" y2="243.66" stroke="#34406a" stroke-width="1.1"/>
<line x1="390.90" y1="235.72" x2="394.90" y2="235.72" stroke="#34406a" stroke-width="1.1"/>
<line x1="390.90" y1="243.66" x2="394.90" y2="243.66" stroke="#34406a" stroke-width="1.1"/>
<polyline points="292.50,250.88 326.00,188.79 359.60,198.90 392.90,238.97" fill="none" stroke="#2a3c6e" stroke-width="1.8" stroke-linejoin="round"/>
<circle cx="292.50" cy="250.88" r="1.60" fill="#2c4682"/>
<circle cx="326.00" cy="188.79" r="1.60" fill="#2c4682"/>
<circle cx="359.60" cy="198.90" r="1.60" fill="#2c4682"/>
<circle cx="392.90" cy="238.97" r="1.60" fill="#2c4682"/>
<line x1="326.00" y1="205.04" x2="326.00" y2="230.67" stroke="#8a2242" stroke-width="1.1"/>
<line x1="324.00" y1="205.04" x2="328.00" y2="205.04" stroke="#8a2242" stroke-width="1.1"/>
<line x1="324.00" y1="230.67" x2="328.00" y2="230.67" stroke="#8a2242" stroke-width="1.1"/>
<line x1="359.60" y1="190.96" x2="359.60" y2="215.50" stroke="#8a2242" stroke-width="1.1"/>
<line x1="357.60" y1="190.96" x2="361.60" y2="190.96" stroke="#8a2242" stroke-width="1.1"/>
<line x1="357.60" y1="215.50" x2="361.60" y2="215.50" stroke="#8a2242" stroke-width="1.1"/>
<line x1="392.90" y1="225.61" x2="392.90" y2="235.00" stroke="#8a2242" stroke-width="1.1"/>
<line x1="390.90" y1="225.61" x2="394.90" y2="225.61" stroke="#8a2242" stroke-width="1.1"/>
<line x1="390.90" y1="235.00" x2="394.90" y2="235.00" stroke="#8a2242" stroke-width="1.1"/>
<polyline points="292.50,253.77 326.00,218.03 359.60,203.59 392.90,230.67" fill="none" stroke="#a01434" stroke-width="1.8" stroke-linejoin="round"/>
<polygon points="292.50,251.17 295.10,253.77 292.50,256.37 289.90,253.77" fill="#9c1230"/>
<polygon points="326.00,215.43 328.60,218.03 326.00,220.63 323.40,218.03" fill="#9c1230"/>
<polygon points="359.60,200.99 362.20,203.59 359.60,206.19 357.00,203.59" fill="#9c1230"/>
<polygon points="392.90,228.07 395.50,230.67 392.90,233.27 390.30,230.67" fill="#9c1230"/>
<text x="342.50" y="174.20" font-size="7.5" text-anchor="middle" fill="#222" textLength="51.7" lengthAdjust="spacingAndGlyphs" >*<tspan font-style="italic">P</tspan> value &gt; <tspan font-style="italic">0.07</tspan></text>
<text x="326.10" y="182.20" font-size="7.5" text-anchor="middle" fill="#222" >*</text>
<text x="360.00" y="182.20" font-size="7.5" text-anchor="middle" fill="#222" >*</text>
<line x1="416.00" y1="207.20" x2="430.30" y2="207.20" stroke="#90132f" stroke-width="1.6"/>
<polygon points="423.00,204.30 425.90,207.20 423.00,210.10 420.10,207.20" fill="#9c1230"/>
<text x="433.10" y="209.50" font-size="7.5" text-anchor="start" fill="#2e2e2e" textLength="79.7" lengthAdjust="spacingAndGlyphs" >Ixa 8 mg/kg o.g. (n=10)</text>
<line x1="416.00" y1="219.60" x2="430.30" y2="219.60" stroke="#263660" stroke-width="1.6"/>
<rect x="420.90" y="217.50" width="4.20" height="4.20" fill="#2c4682" />
<text x="433.10" y="221.90" font-size="7.5" text-anchor="start" fill="#2e2e2e" textLength="78" lengthAdjust="spacingAndGlyphs" >Bor 0.8 mg/kg IV (n=5)</text>
<line x1="416.00" y1="231.80" x2="430.30" y2="231.80" stroke="#5c9142" stroke-width="1.6"/>
<path d="M420.90,229.70L425.10,233.90M425.10,229.70L420.90,233.90M423.00,229.70L423.00,233.90" stroke="#74ad50" stroke-width="1.2" fill="none"/>
<text x="433.10" y="234.10" font-size="7.5" text-anchor="start" fill="#2e2e2e" textLength="45.5" lengthAdjust="spacingAndGlyphs" >Veh o.g. (n=9)</text>
<text font-size="12" font-weight="bold" fill="#000" transform="translate(7.8,295.0) scale(0.8,1)">E</text>
<line x1="40.30" y1="309.30" x2="40.30" y2="405.90" stroke="#1e1e1e" stroke-width="1.6"/>
<line x1="37.10" y1="405.10" x2="40.30" y2="405.10" stroke="#1e1e1e" stroke-width="1.3"/>
<text x="34.30" y="407.60" font-size="8.0" text-anchor="end" fill="#2e2e2e" textLength="4.31" lengthAdjust="spacingAndGlyphs" >0</text>
<line x1="37.10" y1="395.81" x2="40.30" y2="395.81" stroke="#1e1e1e" stroke-width="1.3"/>
<text x="34.30" y="398.31" font-size="8.0" text-anchor="end" fill="#2e2e2e" textLength="8.62" lengthAdjust="spacingAndGlyphs" >10</text>
<line x1="37.10" y1="386.52" x2="40.30" y2="386.52" stroke="#1e1e1e" stroke-width="1.3"/>
<text x="34.30" y="389.02" font-size="8.0" text-anchor="end" fill="#2e2e2e" textLength="8.62" lengthAdjust="spacingAndGlyphs" >20</text>
<line x1="37.10" y1="377.23" x2="40.30" y2="377.23" stroke="#1e1e1e" stroke-width="1.3"/>
<text x="34.30" y="379.73" font-size="8.0" text-anchor="end" fill="#2e2e2e" textLength="8.62" lengthAdjust="spacingAndGlyphs" >30</text>
<line x1="37.10" y1="367.94" x2="40.30" y2="367.94" stroke="#1e1e1e" stroke-width="1.3"/>
<text x="34.30" y="370.44" font-size="8.0" text-anchor="end" fill="#2e2e2e" textLength="8.62" lengthAdjust="spacingAndGlyphs" >40</text>
<line x1="37.10" y1="358.65" x2="40.30" y2="358.65" stroke="#1e1e1e" stroke-width="1.3"/>
<text x="34.30" y="361.15" font-size="8.0" text-anchor="end" fill="#2e2e2e" textLength="8.62" lengthAdjust="spacingAndGlyphs" >50</text>
<line x1="37.10" y1="349.36" x2="40.30" y2="349.36" stroke="#1e1e1e" stroke-width="1.3"/>
<text x="34.30" y="351.86" font-size="8.0" text-anchor="end" fill="#2e2e2e" textLength="8.62" lengthAdjust="spacingAndGlyphs" >60</text>
<line x1="37.10" y1="340.07" x2="40.30" y2="340.07" stroke="#1e1e1e" stroke-width="1.3"/>
<text x="34.30" y="342.57" font-size="8.0" text-anchor="end" fill="#2e2e2e" textLength="8.62" lengthAdjust="spacingAndGlyphs" >70</text>
<line x1="37.10" y1="330.78" x2="40.30" y2="330.78" stroke="#1e1e1e" stroke-width="1.3"/>
<text x="34.30" y="333.28" font-size="8.0" text-anchor="end" fill="#2e2e2e" textLength="8.62" lengthAdjust="spacingAndGlyphs" >80</text>
<line x1="37.10" y1="321.49" x2="40.30" y2="321.49" stroke="#1e1e1e" stroke-width="1.3"/>
<text x="34.30" y="323.99" font-size="8.0" text-anchor="end" fill="#2e2e2e" textLength="8.62" lengthAdjust="spacingAndGlyphs" >90</text>
<line x1="37.10" y1="312.20" x2="40.30" y2="312.20" stroke="#1e1e1e" stroke-width="1.3"/>
<text x="34.30" y="314.70" font-size="8.0" text-anchor="end" fill="#2e2e2e" textLength="12.93" lengthAdjust="spacingAndGlyphs" >100</text>
<line x1="39.50" y1="405.10" x2="166.00" y2="405.10" stroke="#1e1e1e" stroke-width="1.7"/>
<line x1="60.75" y1="405.10" x2="60.75" y2="407.90" stroke="#1e1e1e" stroke-width="1.3"/>
<line x1="101.50" y1="405.10" x2="101.50" y2="407.90" stroke="#1e1e1e" stroke-width="1.3"/>
<line x1="142.30" y1="405.10" x2="142.30" y2="407.90" stroke="#1e1e1e" stroke-width="1.3"/>
<line x1="162.80" y1="405.10" x2="162.80" y2="407.90" stroke="#1e1e1e" stroke-width="1.3"/>
<rect x="46.35" y="320.56" width="9.60" height="84.54" fill="#a6052c" />
<rect x="55.95" y="396.74" width="9.60" height="8.36" fill="#324c86" />
<text x="51.15" y="316.36" font-size="8.0" text-anchor="middle" fill="#2e2e2e" textLength="8.62" lengthAdjust="spacingAndGlyphs" >91</text>
<text x="60.75" y="392.74" font-size="8.0" text-anchor="middle" fill="#2e2e2e" textLength="4.31" lengthAdjust="spacingAndGlyphs" >9</text>
<text x="69.75" y="400.90" font-size="8.0" text-anchor="middle" fill="#2e2e2e" textLength="4.31" lengthAdjust="spacingAndGlyphs" >0</text>
<text x="60.75" y="417.60" font-size="7.9" text-anchor="middle" fill="#2e2e2e" textLength="26.0" lengthAdjust="spacingAndGlyphs" >Ixa o.g.</text>
<rect x="87.10" y="314.99" width="9.60" height="90.11" fill="#a6052c" />
<rect x="96.70" y="402.31" width="9.60" height="2.79" fill="#324c86" />
<text x="91.90" y="310.79" font-size="8.0" text-anchor="middle" fill="#2e2e2e" textLength="8.62" lengthAdjust="spacingAndGlyphs" >97</text>
<text x="101.50" y="398.31" font-size="8.0" text-anchor="middle" fill="#2e2e2e" textLength="4.31" lengthAdjust="spacingAndGlyphs" >3</text>
<text x="110.50" y="400.90" font-size="8.0" text-anchor="middle" fill="#2e2e2e" textLength="4.31" lengthAdjust="spacingAndGlyphs" >0</text>
<text x="101.50" y="417.60" font-size="7.9" text-anchor="middle" fill="#2e2e2e" textLength="23.34" lengthAdjust="spacingAndGlyphs" >Ple SC</text>
<rect x="127.90" y="326.13" width="9.60" height="78.97" fill="#a6052c" />
<rect x="137.50" y="391.17" width="9.60" height="13.94" fill="#324c86" />
<text x="132.70" y="321.94" font-size="8.0" text-anchor="middle" fill="#2e2e2e" textLength="8.62" lengthAdjust="spacingAndGlyphs" >85</text>
<text x="142.30" y="387.17" font-size="8.0" text-anchor="middle" fill="#2e2e2e" textLength="8.62" lengthAdjust="spacingAndGlyphs" >15</text>
<text x="151.30" y="400.90" font-size="8.0" text-anchor="middle" fill="#2e2e2e" textLength="4.31" lengthAdjust="spacingAndGlyphs" >0</text>
<text x="142.30" y="417.60" font-size="7.9" text-anchor="middle" fill="#2e2e2e" textLength="35.83" lengthAdjust="spacingAndGlyphs" >G-CSF SC</text>
<text x="0" y="0" font-size="8.3" text-anchor="middle" fill="#2e2e2e" textLength="63.3" lengthAdjust="spacingAndGlyphs" transform="translate(14.6,357.6) rotate(-90)">CFU-C subtypes (%)</text>
<rect x="160.60" y="349.00" width="5.00" height="5.00" fill="#a6052c" />
<text x="168.20" y="354.00" font-size="7.5" text-anchor="start" fill="#2e2e2e" textLength="30" lengthAdjust="spacingAndGlyphs" >CFU-GM</text>
<rect x="160.60" y="359.80" width="5.00" height="5.00" fill="#324c86" />
<text x="168.20" y="364.80" font-size="7.5" text-anchor="start" fill="#2e2e2e" textLength="22.5" lengthAdjust="spacingAndGlyphs" >CFU-E</text>
<rect x="160.60" y="370.60" width="5.00" height="5.00" fill="#6aaa3e" />
<text x="168.20" y="375.60" font-size="7.5" text-anchor="start" fill="#2e2e2e" textLength="41" lengthAdjust="spacingAndGlyphs" >CFU-GEMM</text>
<text font-size="12" font-weight="bold" fill="#000" transform="translate(243.8,295.0) scale(0.88,1)">F</text>
<line x1="276.30" y1="301.00" x2="276.30" y2="405.50" stroke="#1e1e1e" stroke-width="1.6"/>
<line x1="273.10" y1="404.70" x2="276.30" y2="404.70" stroke="#1e1e1e" stroke-width="1.3"/>
<text x="270.30" y="407.20" font-size="8.0" text-anchor="end" fill="#2e2e2e" textLength="4.31" lengthAdjust="spacingAndGlyphs" >0</text>
<line x1="273.10" y1="390.22" x2="276.30" y2="390.22" stroke="#1e1e1e" stroke-width="1.3"/>
<text x="270.30" y="392.72" font-size="8.0" text-anchor="end" fill="#2e2e2e" textLength="8.62" lengthAdjust="spacingAndGlyphs" >20</text>
<line x1="273.10" y1="375.74" x2="276.30" y2="375.74" stroke="#1e1e1e" stroke-width="1.3"/>
<text x="270.30" y="378.24" font-size="8.0" text-anchor="end" fill="#2e2e2e" textLength="8.62" lengthAdjust="spacingAndGlyphs" >40</text>
<line x1="273.10" y1="361.26" x2="276.30" y2="361.26" stroke="#1e1e1e" stroke-width="1.3"/>
<text x="270.30" y="363.76" font-size="8.0" text-anchor="end" fill="#2e2e2e" textLength="8.62" lengthAdjust="spacingAndGlyphs" >60</text>
<line x1="273.10" y1="346.78" x2="276.30" y2="346.78" stroke="#1e1e1e" stroke-width="1.3"/>
<text x="270.30" y="349.28" font-size="8.0" text-anchor="end" fill="#2e2e2e" textLength="8.62" lengthAdjust="spacingAndGlyphs" >80</text>
<line x1="273.10" y1="332.30" x2="276.30" y2="332.30" stroke="#1e1e1e" stroke-width="1.3"/>
<text x="270.30" y="334.80" font-size="8.0" text-anchor="end" fill="#2e2e2e" textLength="12.93" lengthAdjust="spacingAndGlyphs" >100</text>
<line x1="273.10" y1="317.82" x2="276.30" y2="317.82" stroke="#1e1e1e" stroke-width="1.3"/>
<text x="270.30" y="320.32" font-size="8.0" text-anchor="end" fill="#2e2e2e" textLength="12.93" lengthAdjust="spacingAndGlyphs" >120</text>
<line x1="273.10" y1="303.34" x2="276.30" y2="303.34" stroke="#1e1e1e" stroke-width="1.3"/>
<text x="270.30" y="305.84" font-size="8.0" text-anchor="end" fill="#2e2e2e" textLength="12.93" lengthAdjust="spacingAndGlyphs" >140</text>
<line x1="275.50" y1="404.70" x2="405.50" y2="404.70" stroke="#1e1e1e" stroke-width="1.7"/>
<line x1="292.75" y1="403.40" x2="292.75" y2="404.19" stroke="#222" stroke-width="1.1"/>
<line x1="290.95" y1="403.40" x2="294.55" y2="403.40" stroke="#222" stroke-width="1.3"/>
<rect x="285.50" y="404.19" width="14.50" height="0.51" fill="#b06a32" />
<line x1="307.25" y1="398.55" x2="307.25" y2="399.99" stroke="#222" stroke-width="1.1"/>
<line x1="305.45" y1="398.55" x2="309.05" y2="398.55" stroke="#222" stroke-width="1.3"/>
<rect x="300.00" y="399.99" width="14.50" height="4.71" fill="#6aaa3e" />
<line x1="334.00" y1="397.46" x2="334.00" y2="398.62" stroke="#222" stroke-width="1.1"/>
<line x1="332.20" y1="397.46" x2="335.80" y2="397.46" stroke="#222" stroke-width="1.3"/>
<rect x="327.00" y="398.62" width="14.00" height="6.08" fill="#e8c22e" />
<line x1="348.00" y1="393.12" x2="348.00" y2="396.01" stroke="#222" stroke-width="1.1"/>
<line x1="346.20" y1="393.12" x2="349.80" y2="393.12" stroke="#222" stroke-width="1.3"/>
<rect x="341.00" y="396.01" width="14.00" height="8.69" fill="#45207a" />
<line x1="374.95" y1="373.28" x2="374.95" y2="379.58" stroke="#222" stroke-width="1.1"/>
<line x1="373.15" y1="373.28" x2="376.75" y2="373.28" stroke="#222" stroke-width="1.3"/>
<rect x="368.20" y="379.58" width="13.50" height="25.12" fill="#2b4a87" />
<line x1="388.65" y1="310.58" x2="388.65" y2="322.45" stroke="#222" stroke-width="1.1"/>
<line x1="386.85" y1="310.58" x2="390.45" y2="310.58" stroke="#222" stroke-width="1.3"/>
<rect x="381.70" y="322.45" width="13.90" height="82.25" fill="#ab0630" />
<path d="M325.4,393.8V390.3H354.5V393.8" fill="none" stroke="#222" stroke-width="1.3"/>
<path d="M368.2,311.6V307.7H397.1V311.6" fill="none" stroke="#222" stroke-width="1.3"/>
<text x="316.50" y="387.10" font-size="7.5" text-anchor="start" fill="#222" textLength="48" lengthAdjust="spacingAndGlyphs" ><tspan font-style="italic">P</tspan> value = 0.34</text>
<text x="358.40" y="305.10" font-size="7.5" text-anchor="start" fill="#222" textLength="47.6" lengthAdjust="spacingAndGlyphs" font-style="italic">P value = 0.01</text>
<text x="341.00" y="416.00" font-size="8.9" text-anchor="middle" fill="#2e2e2e" textLength="33.4" lengthAdjust="spacingAndGlyphs" >Peak mob</text>
<text x="0" y="0" font-size="8.3" text-anchor="middle" fill="#2e2e2e" textLength="68.7" lengthAdjust="spacingAndGlyphs" transform="translate(251.4,352.3) rotate(-90)">CFU-C/ml PB (x 100)</text>
<rect x="405.70" y="328.00" width="4.60" height="4.60" fill="#b06a32" />
<text x="412.60" y="332.70" font-size="7.5" text-anchor="start" fill="#2e2e2e" textLength="47.3" lengthAdjust="spacingAndGlyphs" >Veh o.g. (n=9)</text>
<rect x="405.70" y="338.80" width="4.60" height="4.60" fill="#6aaa3e" />
<text x="412.60" y="343.50" font-size="7.5" text-anchor="start" fill="#2e2e2e" textLength="80" lengthAdjust="spacingAndGlyphs" >Ixa 8 mg/kg o.g. (n=10)</text>
<rect x="405.70" y="349.50" width="4.60" height="4.60" fill="#e8c22e" />
<text x="412.60" y="354.20" font-size="7.5" text-anchor="start" fill="#2e2e2e" textLength="75" lengthAdjust="spacingAndGlyphs" >Ple 5 mg/kg SC (n=10)</text>
<rect x="405.70" y="360.20" width="4.60" height="4.60" fill="#45207a" />
<text x="412.60" y="364.90" font-size="7.5" text-anchor="start" fill="#2e2e2e" textLength="83" lengthAdjust="spacingAndGlyphs" >Ple SC plus Ixa o.g (n=5)</text>
<rect x="405.70" y="370.90" width="4.60" height="4.60" fill="#2b4a87" />
<text x="412.60" y="375.60" font-size="7.5" text-anchor="start" fill="#2e2e2e" textLength="98.4" lengthAdjust="spacingAndGlyphs" >G-CSF 250 µg/kg/d SC (n=5)</text>
<rect x="405.70" y="381.50" width="4.60" height="4.60" fill="#b0102e" />
<text x="412.60" y="386.20" font-size="7.5" text-anchor="start" fill="#2e2e2e" textLength="97" lengthAdjust="spacingAndGlyphs" >G-CSF SC plus Ixa o.g. (n=5)</text>
</svg>
</body></html>
